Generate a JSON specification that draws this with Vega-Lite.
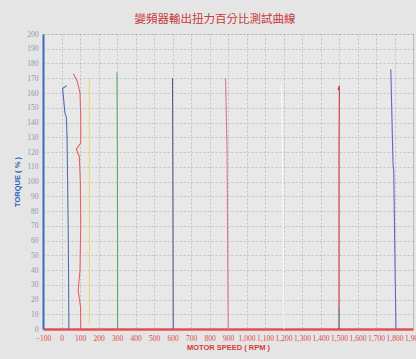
{
  "$schema": "https://vega.github.io/schema/vega-lite/v6.json",
  "width": 370,
  "height": 295,
  "autosize": {"type": "none"},
  "padding": {"left": 43, "top": 34, "right": 3, "bottom": 30},
  "background": "#e5e5e5",
  "title": {
    "text": "變頻器輸出扭力百分比測試曲線",
    "font": "Noto Sans CJK TC",
    "fontSize": 11.5,
    "fontWeight": "normal",
    "color": "#c8383c",
    "anchor": "middle",
    "dx": -13,
    "offset": 5
  },
  "config": {
    "view": {"stroke": "#b0b0b0", "strokeDash": [2, 2], "fill": "#e8e8e8"},
    "axis": {
      "labelFont": "Liberation Sans Narrow",
      "labelFontSize": 7.5,
      "titleFont": "Liberation Sans",
      "titleFontSize": 7.5,
      "titleFontWeight": "bold",
      "gridColor": "#b2b2b2",
      "gridDash": [2, 2],
      "gridWidth": 0.7,
      "ticks": false
    }
  },
  "data": {
    "values": [
      {"s": "a", "i": 0, "rpm": 28, "torque": 165},
      {"s": "a", "i": 1, "rpm": 6, "torque": 163},
      {"s": "a", "i": 2, "rpm": 12, "torque": 155},
      {"s": "a", "i": 3, "rpm": 19, "torque": 146},
      {"s": "a", "i": 4, "rpm": 26, "torque": 144},
      {"s": "a", "i": 5, "rpm": 30, "torque": 130},
      {"s": "a", "i": 6, "rpm": 31, "torque": 121},
      {"s": "a", "i": 7, "rpm": 33, "torque": 100},
      {"s": "a", "i": 8, "rpm": 35, "torque": 80},
      {"s": "a", "i": 9, "rpm": 37, "torque": 60},
      {"s": "a", "i": 10, "rpm": 38, "torque": 40},
      {"s": "a", "i": 11, "rpm": 39, "torque": 20},
      {"s": "a", "i": 12, "rpm": 40, "torque": 0},
      {"s": "b", "i": 0, "rpm": 64, "torque": 173},
      {"s": "b", "i": 1, "rpm": 85, "torque": 168},
      {"s": "b", "i": 2, "rpm": 100, "torque": 160},
      {"s": "b", "i": 3, "rpm": 104, "torque": 145},
      {"s": "b", "i": 4, "rpm": 104, "torque": 126},
      {"s": "b", "i": 5, "rpm": 80, "torque": 122},
      {"s": "b", "i": 6, "rpm": 96, "torque": 117},
      {"s": "b", "i": 7, "rpm": 102, "torque": 100},
      {"s": "b", "i": 8, "rpm": 104, "torque": 70},
      {"s": "b", "i": 9, "rpm": 100, "torque": 40},
      {"s": "b", "i": 10, "rpm": 90, "torque": 26},
      {"s": "b", "i": 11, "rpm": 103, "torque": 15},
      {"s": "b", "i": 12, "rpm": 104, "torque": 0},
      {"s": "c", "i": 0, "rpm": 150, "torque": 170},
      {"s": "c", "i": 1, "rpm": 151, "torque": 80},
      {"s": "c", "i": 2, "rpm": 151, "torque": 3},
      {"s": "d", "i": 0, "rpm": 300, "torque": 174},
      {"s": "d", "i": 1, "rpm": 302, "torque": 120},
      {"s": "d", "i": 2, "rpm": 303, "torque": 60},
      {"s": "d", "i": 3, "rpm": 303, "torque": 0},
      {"s": "e", "i": 0, "rpm": 600, "torque": 170},
      {"s": "e", "i": 1, "rpm": 602, "torque": 100},
      {"s": "e", "i": 2, "rpm": 604, "torque": 0},
      {"s": "f", "i": 0, "rpm": 887, "torque": 170},
      {"s": "f", "i": 1, "rpm": 895, "torque": 120},
      {"s": "f", "i": 2, "rpm": 901, "torque": 0},
      {"s": "g", "i": 0, "rpm": 1190, "torque": 165},
      {"s": "g", "i": 1, "rpm": 1197, "torque": 90},
      {"s": "g", "i": 2, "rpm": 1203, "torque": 0},
      {"s": "h", "i": 0, "rpm": 1495, "torque": 162},
      {"s": "h", "i": 1, "rpm": 1502, "torque": 165},
      {"s": "h", "i": 2, "rpm": 1500, "torque": 120},
      {"s": "h", "i": 3, "rpm": 1500, "torque": 15},
      {"s": "k", "i": 0, "rpm": 1500, "torque": 15},
      {"s": "k", "i": 1, "rpm": 1500, "torque": 0},
      {"s": "j", "i": 0, "rpm": 1780, "torque": 176},
      {"s": "j", "i": 1, "rpm": 1792, "torque": 112},
      {"s": "j", "i": 2, "rpm": 1796, "torque": 107},
      {"s": "j", "i": 3, "rpm": 1802, "torque": 50},
      {"s": "j", "i": 4, "rpm": 1808, "torque": 0}
    ]
  },
  "mark": {"type": "line", "strokeWidth": 1.1, "clip": true},
  "encoding": {
    "x": {
      "field": "rpm",
      "type": "quantitative",
      "scale": {"domain": [-100, 1900], "nice": false, "zero": false},
      "axis": {
        "values": [-100, 0, 100, 200, 300, 400, 500, 600, 700, 800, 900, 1000, 1100, 1200, 1300, 1400, 1500, 1600, 1700, 1800, 1900],
        "title": "MOTOR SPEED ( RPM )",
        "titleColor": "#d83a3a",
        "labelColor": "#e04848",
        "domainColor": "#e05252",
        "domainWidth": 2.5,
        "labelOverlap": false,
        "labelFlush": false,
        "labelPadding": 5,
        "titlePadding": 2
      }
    },
    "y": {
      "field": "torque",
      "type": "quantitative",
      "scale": {"domain": [0, 200], "nice": false},
      "axis": {
        "values": [0, 10, 20, 30, 40, 50, 60, 70, 80, 90, 100, 110, 120, 130, 140, 150, 160, 170, 180, 190, 200],
        "title": "TORQUE ( % )",
        "titleColor": "#2e62b8",
        "labelColor": "#8c98b4",
        "domainColor": "#3a6cc0",
        "domainWidth": 2,
        "labelOverlap": false,
        "labelFlush": false,
        "labelPadding": 5,
        "titlePadding": 5
      }
    },
    "color": {
      "field": "s",
      "type": "nominal",
      "legend": null,
      "scale": {
        "domain": ["a", "b", "c", "d", "e", "f", "g", "h", "k", "j"],
        "range": ["#4e6eb0", "#e86060", "#ecd878", "#58a868", "#585898", "#d87884", "#fafafa", "#c83848", "#505050", "#6464c4"]
      }
    },
    "order": {"field": "i", "type": "quantitative"}
  }
}
